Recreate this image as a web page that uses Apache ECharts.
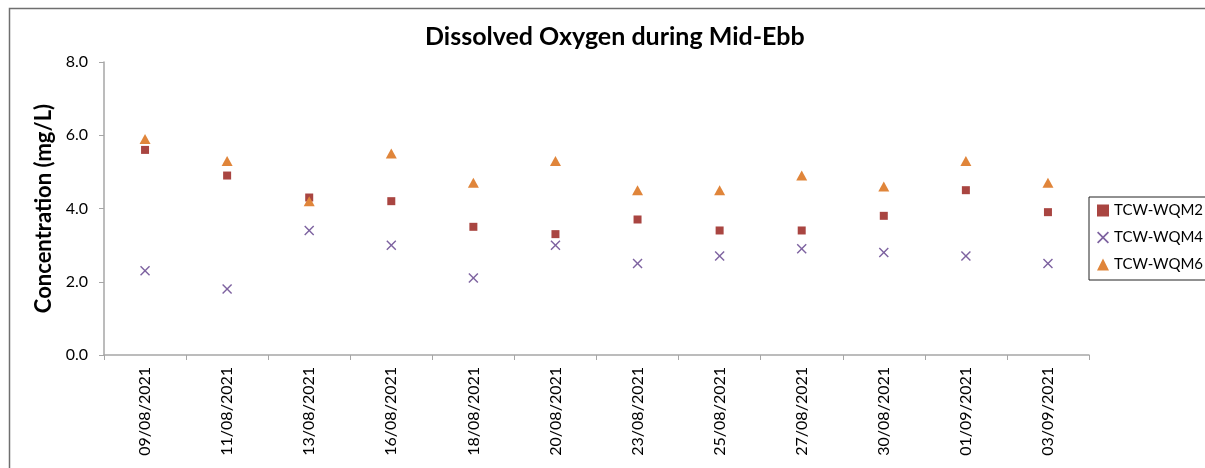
<!DOCTYPE html>
<html>
<head>
<meta charset="utf-8">
<script src="https://cdn.jsdelivr.net/npm/echarts@6/dist/echarts.min.js"></script>
<style>
html,body{margin:0;padding:0;background:#fff;}
#chart{width:1205px;height:468px;}
</style>
</head>
<body>
<div id="chart"></div>
<script>
const categories = ['09/08/2021','11/08/2021','13/08/2021','16/08/2021','18/08/2021','20/08/2021','23/08/2021','25/08/2021','27/08/2021','30/08/2021','01/09/2021','03/09/2021'];
const wqm2 = [5.6, 4.9, 4.3, 4.2, 3.5, 3.3, 3.7, 3.4, 3.4, 3.8, 4.5, 3.9];
const wqm4 = [2.3, 1.8, 3.4, 3.0, 2.1, 3.0, 2.5, 2.7, 2.9, 2.8, 2.7, 2.5];
const wqm6 = [5.9, 5.3, 4.2, 5.5, 4.7, 5.3, 4.5, 4.5, 4.9, 4.6, 5.3, 4.7];
const seriesNames = ['TCW-WQM2','TCW-WQM4','TCW-WQM6'];

const FONT = 'Lato, "Open Sans", sans-serif';
const xPath = 'path://M0,1 L1,0 L5,4 L9,0 L10,1 L6,5 L10,9 L9,10 L5,6 L1,10 L0,9 L4,5 Z';

const chart = echarts.init(document.getElementById('chart'), null, {renderer:'canvas'});
chart.setOption({
  animation:false,
  backgroundColor:'#ffffff',
  graphic:[{
    type:'rect', left:7, top:6, z:-1,
    shape:{x:0,y:0,width:1300,height:600},
    style:{fill:'none', stroke:'#6f6f6f', lineWidth:1.5}
  }],
  title:{
    text:'Dissolved Oxygen during Mid-Ebb',
    left:420, top:19,
    textStyle:{fontFamily:FONT, fontWeight:'bold', fontSize:25, color:'#000'}
  },
  legend:{
    orient:'vertical',
    left:1089, top:197,
    width:112,
    padding:[6,8,8,8],
    itemGap:12,
    itemWidth:12, itemHeight:12,
    borderColor:'#222', borderWidth:1,
    backgroundColor:'#fff',
    textStyle:{fontFamily:FONT, fontSize:15, color:'#000'},
    data:[
      {name:seriesNames[0], icon:'rect'},
      {name:seriesNames[1], icon:xPath},
      {name:seriesNames[2], icon:'triangle'}
    ]
  },
  grid:{left:104, right:116, top:62, bottom:113, containLabel:false},
  xAxis:{
    type:'category',
    data:categories,
    boundaryGap:true,
    axisLine:{lineStyle:{color:'#a6a6a6', width:1.5}},
    axisTick:{show:true, length:5, alignWithLabel:false, lineStyle:{color:'#a6a6a6'}},
    axisLabel:{rotate:90, margin:12, fontFamily:FONT, fontSize:16, color:'#000', interval:0},
    splitLine:{show:false}
  },
  yAxis:{
    type:'value',
    min:0, max:8, interval:2,
    name:'Concentration (mg/L)',
    nameLocation:'middle',
    nameGap:45,
    nameTextStyle:{fontFamily:FONT, fontWeight:'bold', fontSize:22, color:'#000'},
    axisLine:{show:true, lineStyle:{color:'#a6a6a6', width:1.5}},
    axisTick:{show:true, length:5, inside:false, lineStyle:{color:'#a6a6a6'}},
    axisLabel:{margin:16, fontFamily:FONT, fontSize:16, color:'#000', formatter:v=>v.toFixed(1)},
    splitLine:{show:false}
  },
  series:[
    {name:seriesNames[0], type:'scatter', data:wqm2, symbol:'rect', symbolSize:8,
     itemStyle:{color:'#a94541', opacity:1}},
    {name:seriesNames[1], type:'scatter', data:wqm4, symbol:xPath, symbolSize:10,
     itemStyle:{color:'#7d62a0', opacity:1}},
    {name:seriesNames[2], type:'scatter', data:wqm6, symbol:'triangle', symbolSize:[11,10],
     itemStyle:{color:'#e0853a', opacity:1}}
  ]
});
</script>
</body>
</html>
